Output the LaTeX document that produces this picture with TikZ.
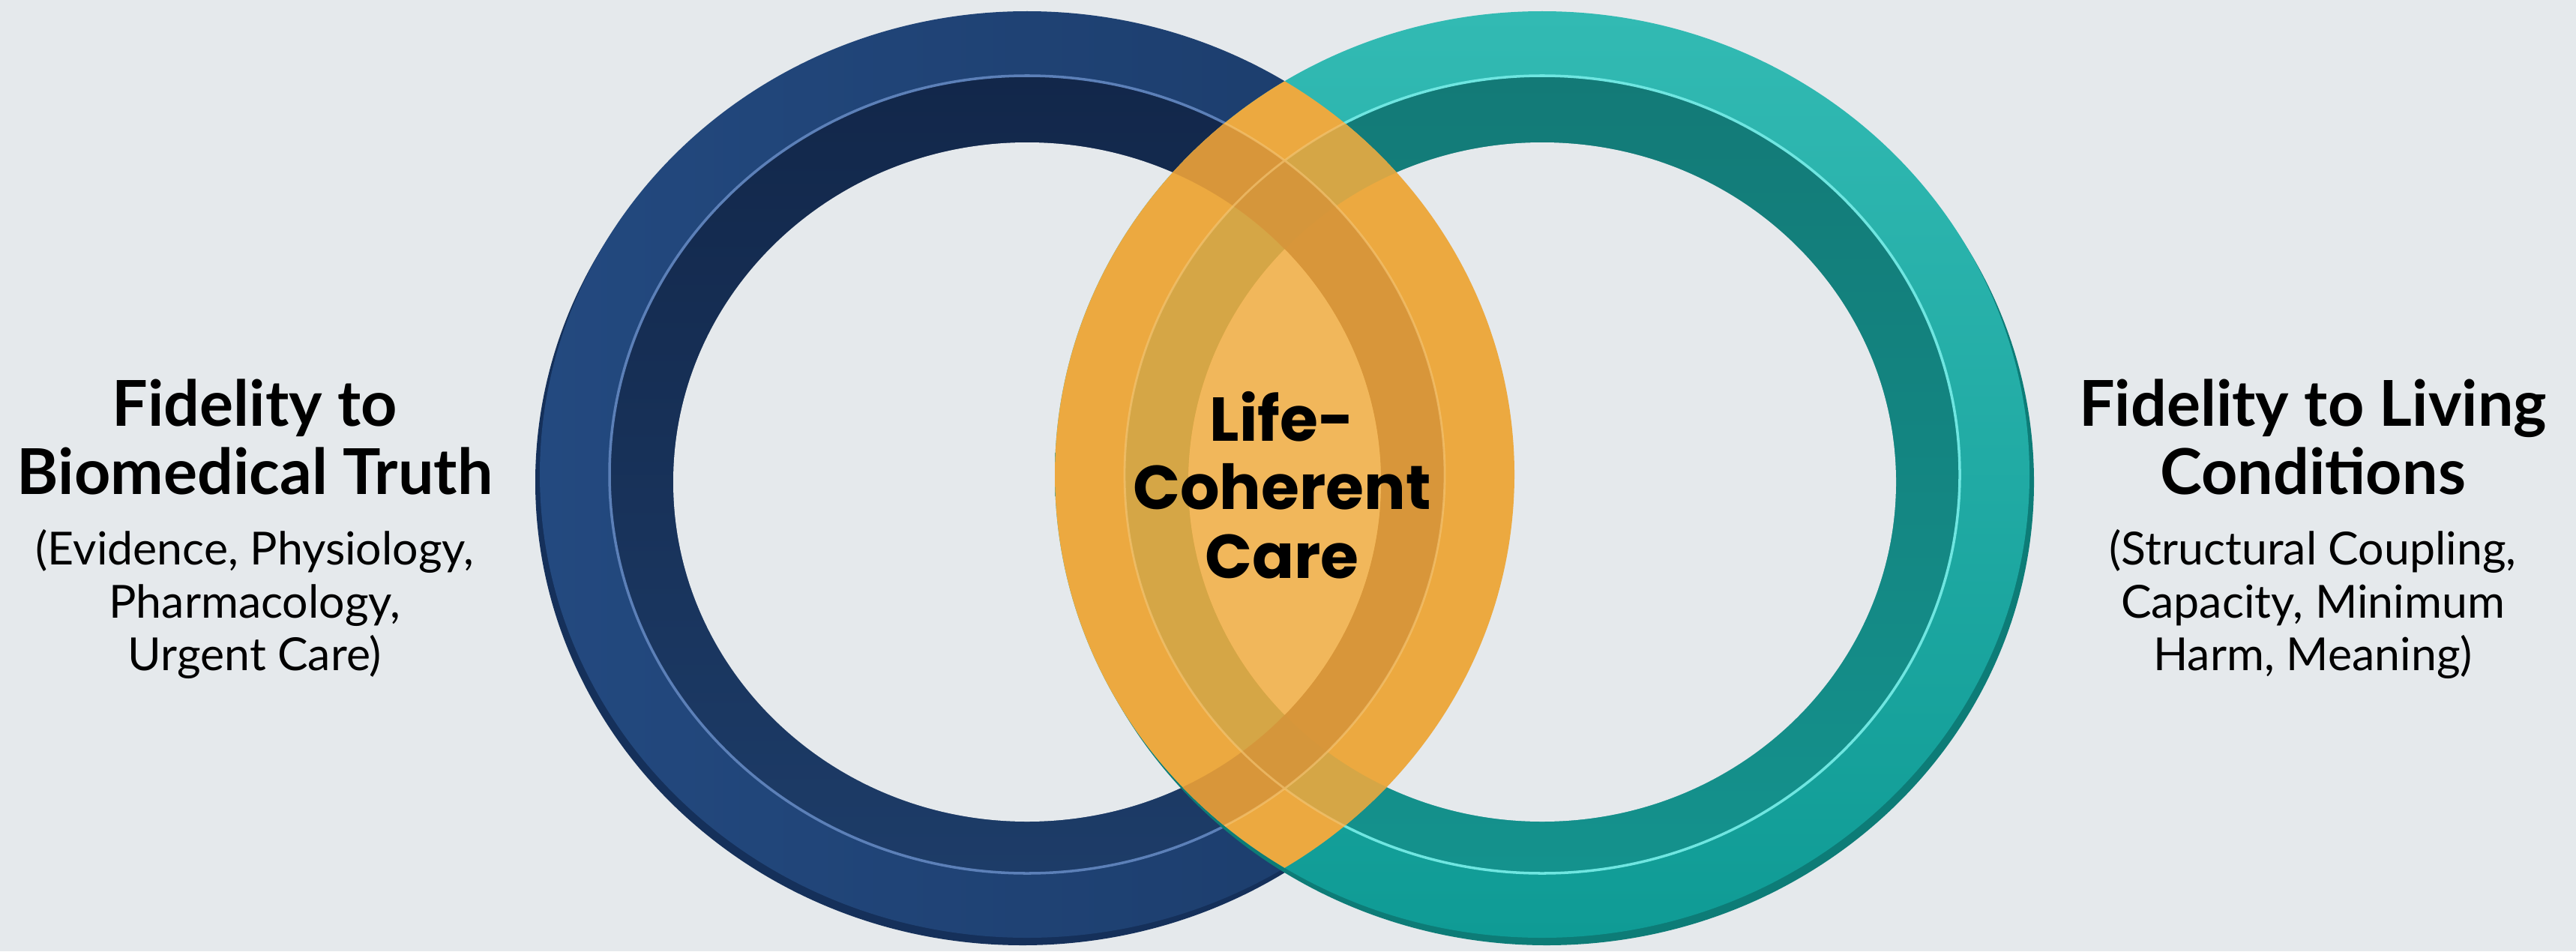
\documentclass[tikz,border=0pt]{standalone}
\usepackage{fontspec}
\setmainfont{Lato}
\newfontfamily\corefont{Poppins}
\definecolor{bgcol}{HTML}{E5E9EC}
\definecolor{navyface}{HTML}{23497F}
\definecolor{navyfacedark}{HTML}{1B3B69}
\definecolor{navywalltop}{HTML}{12274A}
\definecolor{navywallbot}{HTML}{1D3C68}
\definecolor{navylip}{HTML}{15305A}
\definecolor{navyline}{HTML}{5C80B8}
\definecolor{tealtop}{HTML}{32BAB3}
\definecolor{tealbot}{HTML}{0F9B95}
\definecolor{tealwalltop}{HTML}{137A77}
\definecolor{tealwallbot}{HTML}{14928D}
\definecolor{teallip}{HTML}{0D7C77}
\definecolor{tealline}{HTML}{6FE6E1}
\definecolor{lensbase}{HTML}{ECA940}
\definecolor{lensgold}{HTML}{D5A646}
\definecolor{lensdark}{HTML}{D6953A}
\definecolor{lenscore}{HTML}{F1B75B}
\definecolor{lensline}{HTML}{F6C878}
\begin{document}
\begin{tikzpicture}[
    headtext/.style={font=\bfseries\fontsize{24}{26}\selectfont, align=center, text=black},
    subtext/.style={font=\fontsize{17.3}{20}\selectfont, align=center, text=black},
    coretext/.style={font=\corefont\bfseries\fontsize{23.5}{26}\selectfont, align=center, text=black},
    ringline/.style={line width=1pt}
]
        \def\lx{13.70}
        \def\rx{20.57}
        \def\cy{6.36}
        \def\hy{6.26}
        \def\oa{6.50}
        \def\ob{6.18}
        \def\ma{5.57}
        \def\mb{5.32}
        \def\ia{4.72}
        \def\ib{4.53}
        \useasboundingbox (0,0) rectangle (34.36,12.69);
        \fill[bgcol] (0,0) rectangle (34.36,12.69);
        % left ring
        \fill[navylip] (\lx-0.06,\cy-0.10) ellipse [x radius=\oa, y radius=\ob];
        \shade[left color=navyface, right color=navyfacedark] (\lx,\cy) ellipse [x radius=\oa, y radius=\ob];
        \shade[top color=navywalltop, bottom color=navywallbot] (\lx,\cy) ellipse [x radius=\ma, y radius=\mb];
        \draw[navyline, ringline] (\lx,\cy) ellipse [x radius=\ma, y radius=\mb];
        \fill[bgcol] (\lx,\hy) ellipse [x radius=\ia, y radius=\ib];
        % right ring
        \fill[teallip] (\rx+0.06,\cy-0.10) ellipse [x radius=\oa, y radius=\ob];
        \shade[top color=tealtop, bottom color=tealbot] (\rx,\cy) ellipse [x radius=\oa, y radius=\ob];
        \shade[top color=tealwalltop, bottom color=tealwallbot] (\rx,\cy) ellipse [x radius=\ma, y radius=\mb];
        \draw[tealline, ringline] (\rx,\cy) ellipse [x radius=\ma, y radius=\mb];
        \fill[bgcol] (\rx,\hy) ellipse [x radius=\ia, y radius=\ib];
        % overlap
        \begin{scope}
            \clip (\lx,\cy) ellipse [x radius=\oa, y radius=\ob];
            \clip (\rx,\cy) ellipse [x radius=\oa, y radius=\ob];
            \fill[lensbase] (0,0) rectangle (34.36,12.69);
            \fill[lensgold, even odd rule] (\rx,\cy) ellipse [x radius=\ma, y radius=\mb] (\rx,\hy) ellipse [x radius=\ia, y radius=\ib];
            \fill[lensdark, even odd rule, fill opacity=0.9] (\lx,\cy) ellipse [x radius=\ma, y radius=\mb] (\lx,\hy) ellipse [x radius=\ia, y radius=\ib];
            \begin{scope}
                \clip (\lx,\hy) ellipse [x radius=\ia, y radius=\ib];
                \fill[lenscore] (\rx,\hy) ellipse [x radius=\ia, y radius=\ib];
            \end{scope}
            \draw[lensline, line width=0.8pt, draw opacity=0.6] (\lx,\cy) ellipse [x radius=\ma, y radius=\mb] (\rx,\cy) ellipse [x radius=\ma, y radius=\mb];
        \end{scope}
        \node[headtext] (bioHead) at (3.40,6.86) {Fidelity to\\Biomedical Truth};
        \node[subtext] (bioSub) at (3.40,4.63) {(Evidence, Physiology,\\Pharmacology,\\Urgent Care)};
        \node[headtext] (lifeHead) at (30.85,6.86) {Fidelity to Living\\Conditions};
        \node[subtext] (lifeSub) at (30.85,4.63) {(Structural Coupling,\\Capacity, Minimum\\Harm, Meaning)};
        \node[coretext] (core) at (17.10,6.22) {Life-\\Coherent\\Care};
        %\draw[red] (17.10,0) -- (17.10,12.69);
\end{tikzpicture}
\end{document}
